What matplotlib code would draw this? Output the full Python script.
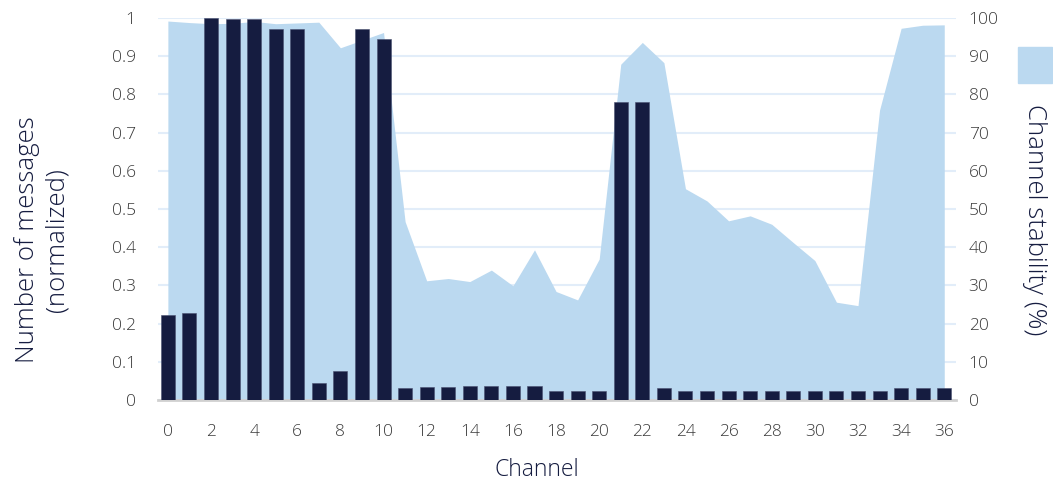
import numpy as np
import matplotlib.pyplot as plt
from matplotlib.patches import Rectangle
from matplotlib.ticker import FuncFormatter

plt.rcParams['font.family'] = ['Open Sans', 'DejaVu Sans']
plt.rcParams['font.weight'] = 'light'

channels = np.arange(37)
messages = [0.222, 0.229, 1.0, 0.997, 0.997, 0.97, 0.97, 0.044, 0.076, 0.97,
            0.946, 0.031, 0.035, 0.035, 0.037, 0.037, 0.037, 0.037, 0.024, 0.024,
            0.024, 0.781, 0.781, 0.031, 0.024, 0.024, 0.024, 0.024, 0.024, 0.024,
            0.024, 0.024, 0.024, 0.024, 0.031, 0.031, 0.031]
stability = [99.2, 98.8, 98.5, 98.6, 99.1, 98.5, 98.7, 98.9, 92.2, 94.2,
             96.2, 46.7, 31.2, 31.8, 31.0, 34.0, 29.9, 39.3, 28.4, 26.2,
             36.9, 87.9, 93.6, 88.3, 55.3, 52.1, 46.9, 48.2, 46.0, 41.2,
             36.5, 25.6, 24.7, 75.9, 97.3, 98.1, 98.2]

navy = '#151c40'
light = '#bbd9f0'
tick_col = '#3a3a3a'

fig = plt.figure(figsize=(10.53, 4.86), dpi=100)
ax2 = fig.add_axes([0.150, 0.177, 0.758, 0.786])
ax = ax2.twinx()

# area on the lower axes, bars on top
ax2.fill_between(channels, stability, 0, color=light, linewidth=0, zorder=2)
ax2.set_ylim(0, 100)
ax2.set_yticks(np.arange(0, 101, 10))
ax2.yaxis.tick_right()
ax2.grid(axis='y', color='#e2edf9', linewidth=1.5, zorder=0)
ax2.set_axisbelow(True)

ax.bar(channels, messages, width=0.65, color=navy, edgecolor='#4a5070', linewidth=0.4, zorder=3)
ax.set_ylim(0, 1)
ax.set_xlim(-0.46, 36.55)
ax.set_yticks(np.arange(0, 1.01, 0.1))
ax.yaxis.tick_left()
ax.yaxis.set_major_formatter(FuncFormatter(lambda v, p: f'{v:.1f}'.rstrip('0').rstrip('.') if v else '0'))
ax.set_zorder(ax2.get_zorder() + 1)
ax.patch.set_visible(False)

ax2.set_xticks(np.arange(0, 37, 2))
for a in (ax, ax2):
    for s in a.spines.values():
        s.set_visible(False)
    a.tick_params(length=0, labelsize=12.5, labelcolor=tick_col)
ax2.spines['bottom'].set_visible(True)
ax2.spines['bottom'].set_color('#d0d0d0')
ax2.spines['bottom'].set_linewidth(2)
ax.tick_params(axis='y', pad=16)
ax2.tick_params(axis='y', pad=9)
ax2.tick_params(axis='x', pad=17)

fig.text(537 / 1053, 1 - 470 / 486, 'Channel', fontsize=16.5, color=navy,
         ha='center', va='center')
fig.text(42 / 1053, 1 - 240 / 486, 'Number of messages\n(normalized)', fontsize=18.5,
         color=navy, ha='center', va='center', rotation=90, linespacing=1.25)
fig.text(1035 / 1053, 1 - 220 / 486, 'Channel stability (%)', fontsize=18.5,
         color=navy, ha='center', va='center', rotation=270)

fig.add_artist(Rectangle((1018 / 1053, 1 - 83 / 486), 34 / 1053, 36 / 486,
                         transform=fig.transFigure, color=light))

fig.savefig('out.png', dpi=100)
